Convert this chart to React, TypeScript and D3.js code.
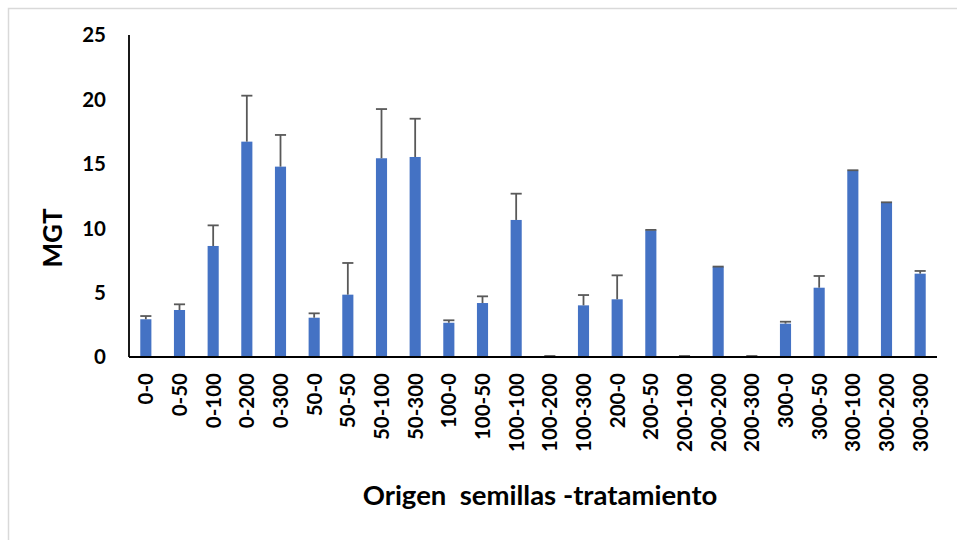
import React, { useEffect, useRef } from "react";
import * as d3 from "d3";

const categories = [
  "0-0", "0-50", "0-100", "0-200", "0-300",
  "50-0", "50-50", "50-100", "50-300",
  "100-0", "100-50", "100-100", "100-200", "100-300",
  "200-0", "200-50", "200-100", "200-200", "200-300",
  "300-0", "300-50", "300-100", "300-200", "300-300",
];
const means = [
  2.93, 3.65, 8.62, 16.72, 14.78,
  3.05, 4.84, 15.43, 15.53,
  2.66, 4.19, 10.64, 0, 4.01,
  4.48, 9.84, 0, 6.99, 0,
  2.59, 5.38, 14.47, 11.98, 6.47,
];
const errors = [
  0.25, 0.44, 1.6, 3.57, 2.46,
  0.34, 2.46, 3.82, 2.97,
  0.19, 0.52, 2.04, 0, 0.8,
  1.86, 0.03, 0, 0.03, 0,
  0.15, 0.91, 0.03, 0.03, 0.21,
];
const yTicks = [0, 5, 10, 15, 20, 25];
const yTitle = "MGT";
const xTitle = "Origen  semillas -tratamiento";

export default function App() {
  const ref = useRef<SVGSVGElement | null>(null);

  useEffect(() => {
    const svg = d3.select(ref.current);
    svg.selectAll("*").remove();
    const W = 957, H = 540;
    const left = 129, right = 937, top = 35, bottom = 357;
    const font = "Lato, 'Open Sans', sans-serif";

    svg.append("rect")
      .attr("x", 8.5).attr("y", 8.5)
      .attr("width", W).attr("height", H)
      .attr("fill", "#fff").attr("stroke", "#d9d9d9").attr("stroke-width", 1.5);

    const x = d3.scaleBand<string>().domain(categories).range([left, right]).paddingInner(0.67).paddingOuter(0.335);
    const y = d3.scaleLinear().domain([0, 25]).range([bottom, top]);

    const data = categories.map((c, i) => ({ c, m: means[i], e: errors[i] }));

    svg.append("g").selectAll("rect").data(data).enter().append("rect")
      .attr("x", d => x(d.c)!)
      .attr("width", x.bandwidth())
      .attr("y", d => y(d.m))
      .attr("height", d => y(0) - y(d.m))
      .attr("fill", "#4472C4");

    const eg = svg.append("g").attr("stroke", "#595959").attr("stroke-width", 1.8);
    data.forEach(d => {
      const cx = x(d.c)! + x.bandwidth() / 2;
      const yt = y(d.m + d.e);
      if (d.e > 0.1) {
        eg.append("line").attr("x1", cx).attr("x2", cx).attr("y1", y(d.m)).attr("y2", yt);
      }
      eg.append("line")
        .attr("x1", cx - x.bandwidth() / 2).attr("x2", cx + x.bandwidth() / 2)
        .attr("y1", d.m === 0 ? yt - 1 : yt).attr("y2", d.m === 0 ? yt - 1 : yt);
    });

    svg.append("line").attr("x1", left).attr("x2", left).attr("y1", top).attr("y2", bottom)
      .attr("stroke", "#000").attr("stroke-width", 1.8);
    svg.append("line").attr("x1", left).attr("x2", right).attr("y1", bottom).attr("y2", bottom)
      .attr("stroke", "#000").attr("stroke-width", 1.8);

    svg.append("g").selectAll("text").data(yTicks).enter().append("text")
      .attr("x", 106).attr("y", d => y(d))
      .attr("dy", "0.36em")
      .attr("text-anchor", "end")
      .attr("font-family", font).attr("font-weight", 700).attr("font-size", 20.5)
      .attr("fill", "#000")
      .text(d => String(d));

    svg.append("g").selectAll("text").data(categories).enter().append("text")
      .attr("transform", c => `translate(${x(c)! + x.bandwidth() / 2},373) rotate(-90)`)
      .attr("dy", "0.36em")
      .attr("text-anchor", "end")
      .attr("font-family", font).attr("font-weight", 700).attr("font-size", 20.5)
      .attr("fill", "#000")
      .text(c => c);

    svg.append("text")
      .attr("transform", `translate(53,238) rotate(-90)`)
      .attr("dy", "0.36em")
      .attr("text-anchor", "middle")
      .attr("font-family", font).attr("font-weight", 700).attr("font-size", 26)
      .attr("fill", "#000")
      .text(yTitle);
    svg.append("text")
      .attr("x", 540).attr("y", 495)
      .attr("dy", "0.36em")
      .attr("text-anchor", "middle")
      .attr("font-family", font).attr("font-weight", 700).attr("font-size", 27.5)
      .attr("fill", "#000")
      .style("white-space", "pre")
      .text(xTitle);
  }, []);

  return (
    <div style={{ position: "absolute", left: 0, top: 0, width: 957, height: 540, overflow: "hidden" }}>
      <svg ref={ref} width={957} height={540} style={{ display: "block" }} />
    </div>
  );
}
